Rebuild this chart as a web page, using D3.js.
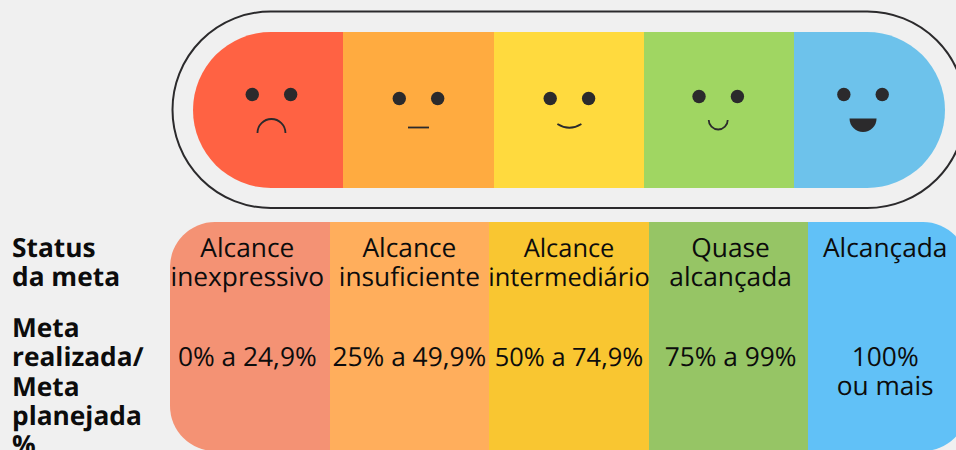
<!DOCTYPE html>
<html>
<head>
<meta charset="utf-8">
<script src="https://cdn.jsdelivr.net/npm/d3@7"></script>
<style>
  html, body { margin: 0; padding: 0; background: #f0f0f0; overflow: hidden; }
  text { font-family: "Open Sans", "Noto Sans", sans-serif; fill: #0c0c0c; text-rendering: geometricPrecision; }
</style>
</head>
<body>
<svg id="root"></svg>
<script>
// data
const moods = ["triste", "neutro", "contente", "feliz", "radiante"];
const statusLines = [
  ["Alcance", "inexpressivo"],
  ["Alcance", "insuficiente"],
  ["Alcance", "intermediário"],
  ["Quase", "alcançada"],
  ["Alcançada"],
];
const rangeLines = [
  ["0% a 24,9%"],
  ["25% a 49,9%"],
  ["50% a 74,9%"],
  ["75% a 99%"],
  ["100%", "ou mais"],
];
const rowLabels = ["Status", "da meta", "Meta", "realizada/", "Meta", "planejada", "%"];
const faceColors = ["#ff6243", "#ffab40", "#ffda3e", "#a0d662", "#6dc2eb"];
const tableColors = ["#f49274", "#ffae5c", "#f9c631", "#96c565", "#61c1f7"];

const width = 956;
const height = 450;
const ink = "#2b2a2c";

const svg = d3.select("#root").attr("width", width).attr("height", height);

const faceX = d3.scaleBand().domain(moods).range([193, 944.6]);
const tableX = d3.scaleBand().domain(d3.range(5)).range([170, 968]);

// band edges snapped to whole pixels so the colour joins stay crisp
const snapX = (scale, d) => Math.round(scale(d));
const snapW = (scale, d) => Math.round(scale(d) + scale.bandwidth()) - snapX(scale, d);

// clip paths for the two rounded shapes
const defs = svg.append("defs");
defs.append("clipPath").attr("id", "faceClip").append("rect")
  .attr("x", 193).attr("y", 32).attr("width", 752).attr("height", 156)
  .attr("rx", 78).attr("ry", 78);
defs.append("clipPath").attr("id", "tableClip").append("rect")
  .attr("x", 170).attr("y", 222).attr("width", 798).attr("height", 229)
  .attr("rx", 45).attr("ry", 45);

// outer track
svg.append("rect")
  .attr("x", 172.5).attr("y", 11.5)
  .attr("width", 793).attr("height", 196.5)
  .attr("rx", 98.25).attr("ry", 98.25)
  .attr("fill", "none")
  .attr("stroke", ink)
  .attr("stroke-width", 2);

svg.append("g").attr("clip-path", "url(#faceClip)")
  .selectAll("rect")
  .data(moods)
  .enter()
  .append("rect")
  .attr("x", (d) => snapX(faceX, d))
  .attr("y", 32)
  .attr("width", (d) => snapW(faceX, d))
  .attr("height", 156)
  .attr("fill", (d, i) => faceColors[i]);

// faces: offset from the centre of each band, then eye height
const faceDx = [3.3, 0, 0.6, -0.9, -6.4];
const eyeY = [94.5, 98.5, 98.5, 96.5, 94.5];

const faces = svg.append("g")
  .selectAll("g")
  .data(moods)
  .enter()
  .append("g")
  .attr("transform", (d, i) =>
    `translate(${faceX(d) + faceX.bandwidth() / 2 + faceDx[i]}, ${eyeY[i]})`
  );

faces.selectAll("circle")
  .data([-19.2, 19.2])
  .enter()
  .append("circle")
  .attr("cx", (d) => d)
  .attr("r", 6.7)
  .attr("fill", ink);

const mouths = {
  triste: "M-14,38.5 A14,14 0 0 1 14,38.5",
  neutro: "M-10.5,29 L10.5,29",
  contente: "M-12,25.5 Q0,33 12,25.5",
  feliz: "M-9.5,23.5 A9.5,9.5 0 0 0 9.5,23.5",
  radiante: "M-13.5,24 L13.5,24 A13.5,13.5 0 0 1 -13.5,24 Z",
};

faces.append("path")
  .attr("d", (d) => mouths[d])
  .attr("fill", (d) => (d === "radiante" ? ink : "none"))
  .attr("stroke", (d) => (d === "radiante" ? "none" : ink))
  .attr("stroke-width", 1.8);

// lower table
svg.append("g").attr("clip-path", "url(#tableClip)")
  .selectAll("rect")
  .data(d3.range(5))
  .enter()
  .append("rect")
  .attr("x", (d) => snapX(tableX, d))
  .attr("y", 222)
  .attr("width", (d) => snapW(tableX, d))
  .attr("height", 229)
  .attr("fill", (d) => tableColors[d]);

const columnDx = [-2.5, 0, 0, 2, -3];
// the middle column is set a little tighter in the original
const columnSize = [26.3, 26.3, 25.4, 26.3, 26.3];

function addColumnText(lines, firstBaseline) {
  svg.append("g")
    .selectAll("text")
    .data(lines)
    .enter()
    .append("text")
    .attr("text-anchor", "middle")
    .attr("font-size", (d, i) => columnSize[i])
    .attr("transform", (d, i) =>
      `translate(${tableX(i) + tableX.bandwidth() / 2 + columnDx[i]}, ${firstBaseline})`
    )
    .selectAll("tspan")
    .data((d) => d)
    .enter()
    .append("tspan")
    .attr("x", 0)
    .attr("y", (d, i) => i * 29.6)
    .text((d) => d);
}

addColumnText(statusLines, 256.5);
addColumnText(rangeLines, 365.7);

// row labels on the left
const labelY = [256.7, 286.2, 336.7, 366, 395.6, 424.7, 454];
svg.append("g")
  .selectAll("text")
  .data(rowLabels)
  .enter()
  .append("text")
  .attr("x", 12)
  .attr("y", (d, i) => labelY[i])
  .attr("font-size", 26.3)
  .attr("font-weight", 700)
  .text((d) => d);
</script>
</body>
</html>
